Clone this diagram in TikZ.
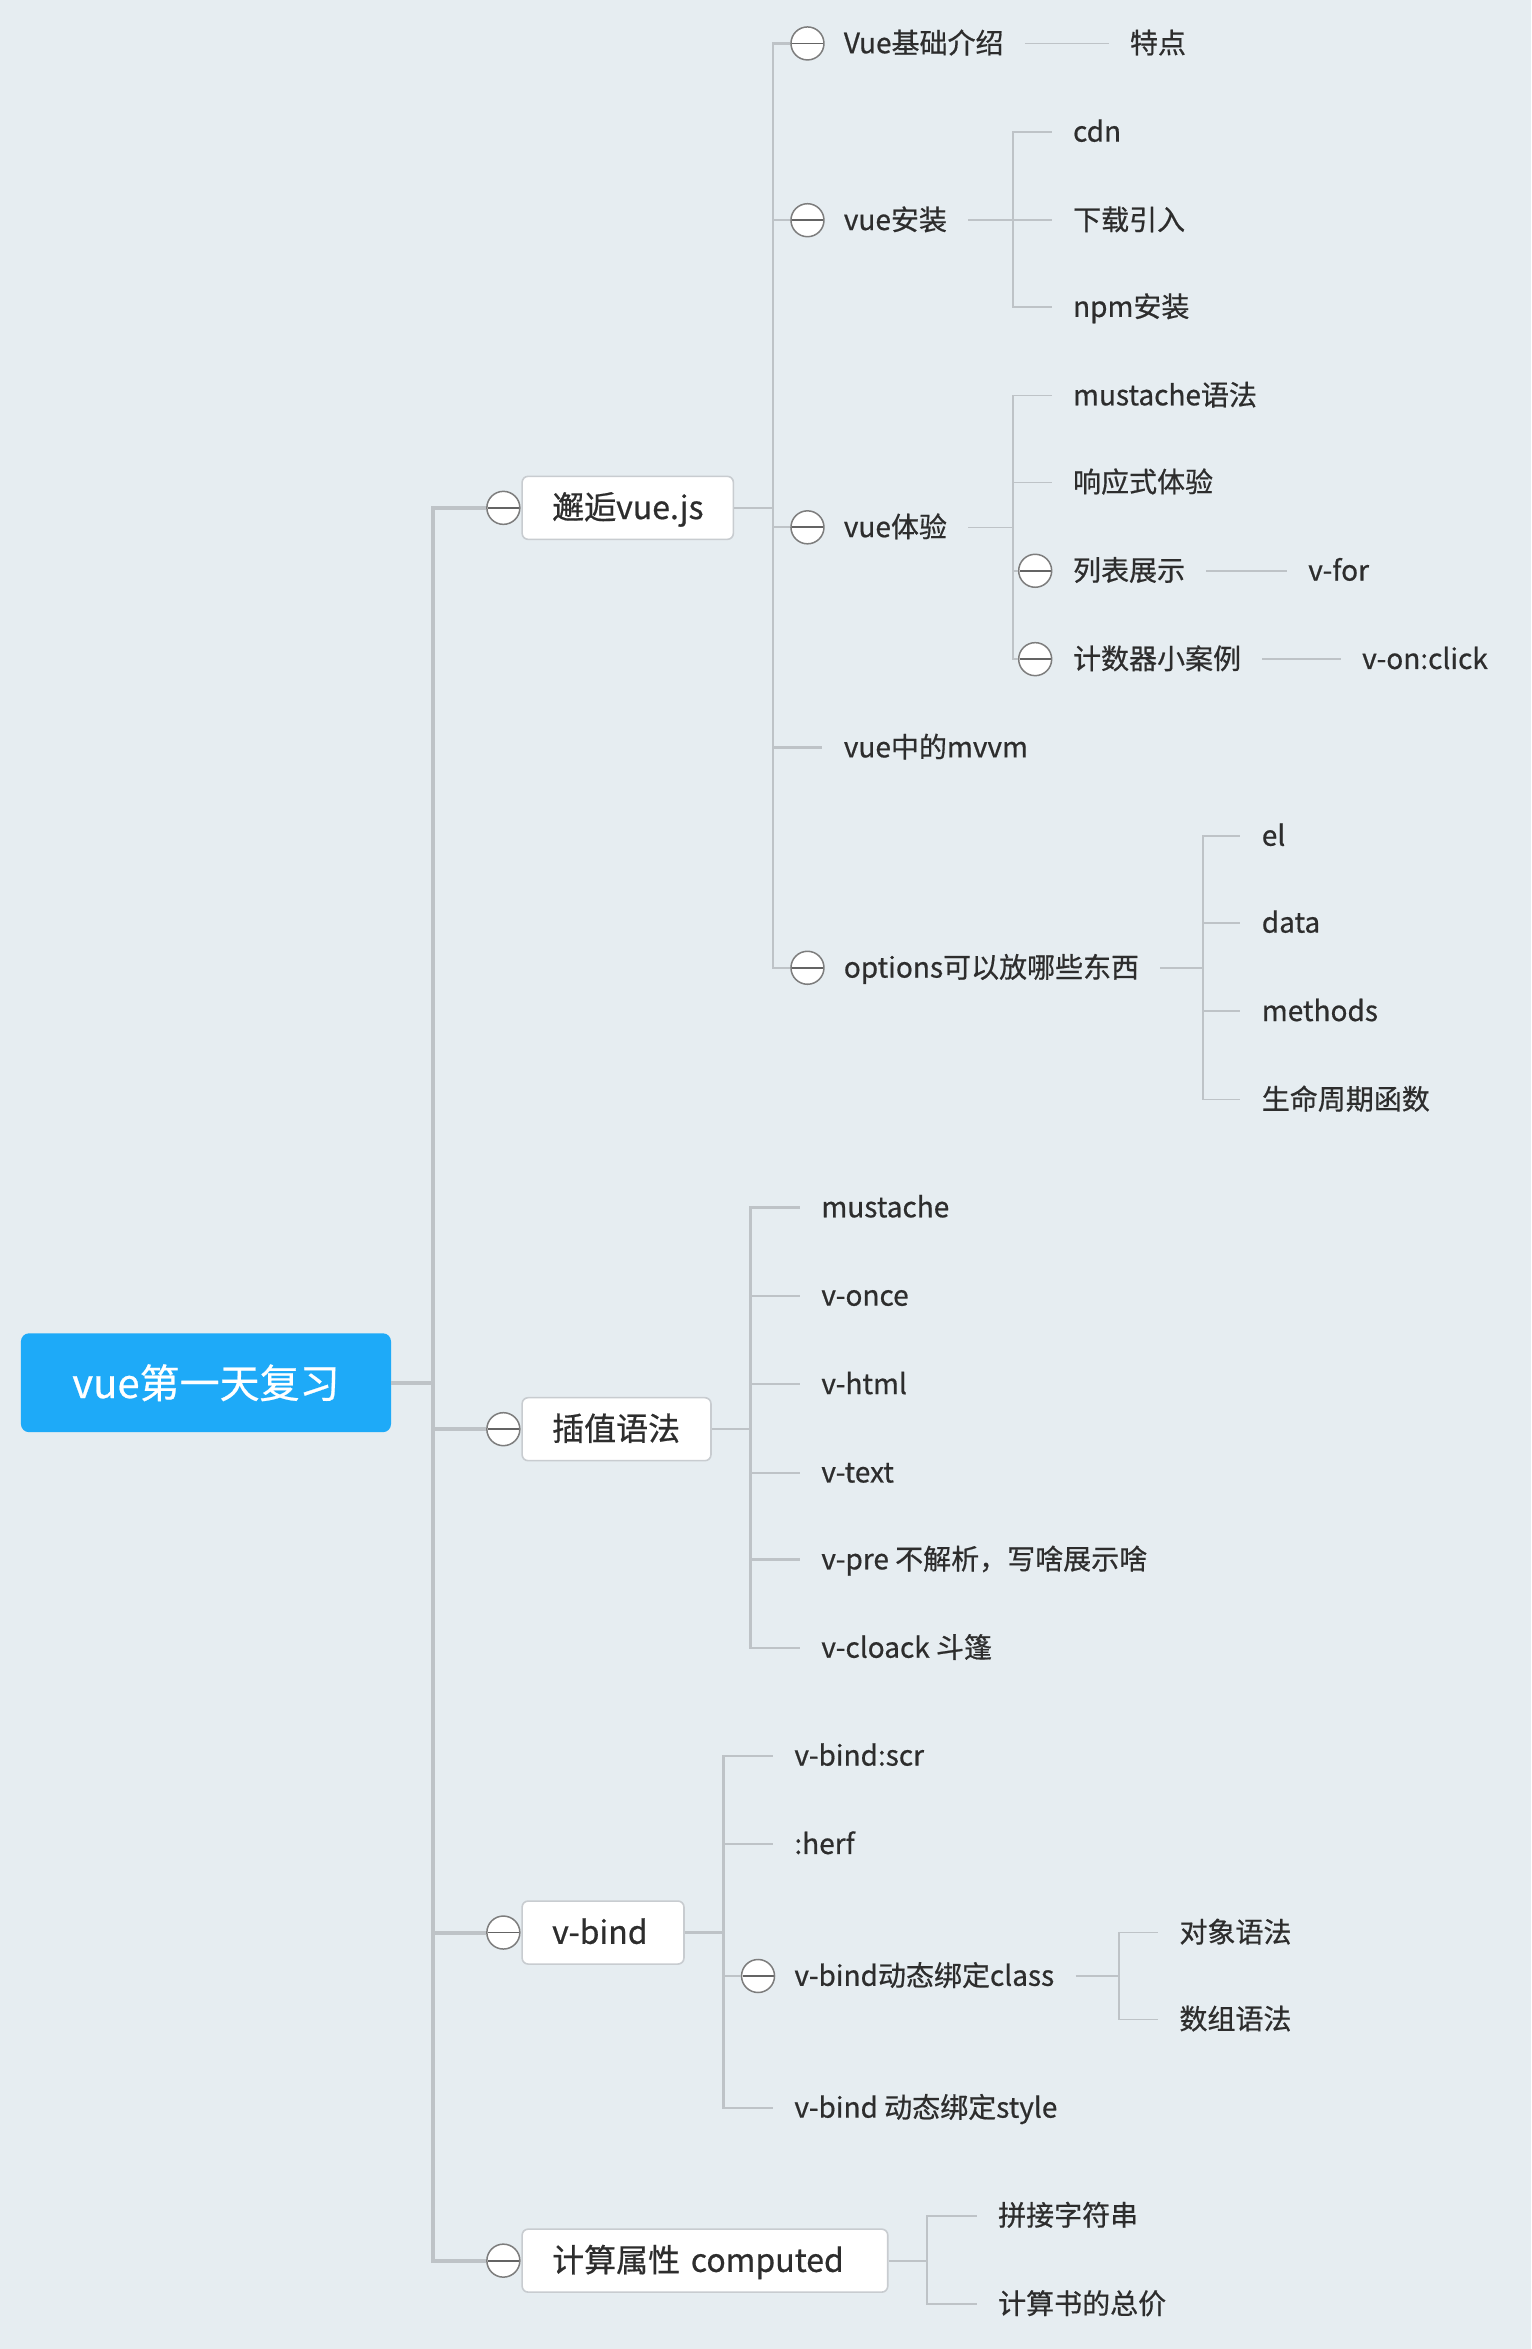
\documentclass[tikz,border=0pt]{standalone}
\usepackage{fontspec}
\setmainfont{Noto Sans CJK SC}[FakeBold=0.6]
\definecolor{bgc}{RGB}{230,237,241}
\definecolor{linec}{RGB}{190,195,199}
\definecolor{rootc}{RGB}{30,170,248}
\definecolor{boxline}{RGB}{200,204,208}
\definecolor{txtc}{RGB}{45,45,45}
\definecolor{circc}{RGB}{125,125,125}
\definecolor{circl}{RGB}{100,100,100}
\tikzset{
  rootbox/.style={fill=rootc, rounded corners=4pt, minimum width=185pt, minimum height=49.4pt,
    text=white, font=\fontsize{20}{24}\selectfont, inner sep=0pt},
  topic/.style={draw=boxline, fill=white, rounded corners=3pt, line width=0.8pt, anchor=west,
    minimum height=31.5pt, inner xsep=15pt, inner ysep=0pt, text width=#1, align=left,
    font=\fontsize{16}{19}\selectfont, text=txtc, text height=13.6pt, text depth=2.4pt},
  leaf/.style={anchor=west, inner xsep=10.5pt, inner ysep=2pt, font=\fontsize{14}{17}\selectfont,
    text=txtc, text height=11.9pt, text depth=2.1pt},
  collapse/.style={circle, draw=circc, line width=0.75pt, fill=white, minimum size=16.5pt, inner sep=0pt,
    path picture={\draw[circl, line width=0.9pt] ([xshift=0.5pt]path picture bounding box.west) -- ([xshift=-0.5pt]path picture bounding box.east);}},
  trunk/.style={draw=linec, line width=2pt},
  branch/.style={draw=linec, line width=1.1pt},
  twig/.style={draw=linec, line width=0.8pt}
}
\begin{document}
\begin{tikzpicture}[x=0.749pt, y=-0.749pt]
\fill[bgc] (0,0) rectangle (1022,1568);
\useasboundingbox (0,0) rectangle (1022,1568);

\coordinate (T) at (289,923);
\coordinate (J1) at (516,339);
\coordinate (J2) at (676,147);
\coordinate (J3) at (676,352);
\coordinate (J4) at (803,646);
\coordinate (J5) at (501,954);
\coordinate (J6) at (483,1290);
\coordinate (J7) at (747,1319);
\coordinate (J8) at (619,1509);

% ---------- root
\node[rootbox] (root) at (137.5,923) {vue第一天复习};

% ---------- level 2
\node[collapse] (c1) at (336,339) {};
\node[topic=75.6pt] (b1) at (348,339) {邂逅vue.js};
\node[collapse] (c2) at (336,954) {};
\node[topic=64.4pt] (b2) at (348,954) {插值语法};
\node[collapse] (c3) at (336,1290) {};
\node[topic=50.9pt] (b3) at (348,1290) {v-bind};
\node[collapse] (c4) at (336,1509) {};
\node[topic=152.8pt] (b4) at (348,1509) {计算属性 computed};

% ---------- children of 邂逅vue.js
\node[collapse] (ca1) at (539,29) {};
\node[leaf] (a1) at (549,29) {Vue基础介绍};
\node[leaf] (a1x) at (740,29) {特点};
\node[collapse] (ca2) at (539,147) {};
\node[leaf] (a2) at (549,147) {vue安装};
\node[leaf] (a2a) at (702,88) {cdn};
\node[leaf] (a2b) at (702,147) {下载引入};
\node[leaf] (a2c) at (702,205) {npm安装};
\node[collapse] (ca3) at (539,352) {};
\node[leaf] (a3) at (549,352) {vue体验};
\node[leaf] (a3a) at (702,264) {mustache语法};
\node[leaf] (a3b) at (702,322) {响应式体验};
\node[collapse] (ca3c) at (691,381) {};
\node[leaf] (a3c) at (702,381) {列表展示};
\node[leaf] (a3cx) at (859,381) {v-for};
\node[collapse] (ca3d) at (691,440) {};
\node[leaf] (a3d) at (702,440) {计数器小案例};
\node[leaf] (a3dx) at (895,440) {v-on:click};
\node[leaf] (a4) at (549,499) {vue中的mvvm};
\node[collapse] (ca5) at (539,646) {};
\node[leaf] (a5) at (549,646) {options可以放哪些东西};
\node[leaf] (a5a) at (828,558) {el};
\node[leaf] (a5b) at (828,616) {data};
\node[leaf] (a5c) at (828,675) {methods};
\node[leaf] (a5d) at (828,734) {生命周期函数};

% ---------- children of 插值语法
\node[leaf] (s1) at (534,806) {mustache};
\node[leaf] (s2) at (534,865) {v-once};
\node[leaf] (s3) at (534,924) {v-html};
\node[leaf] (s4) at (534,983) {v-text};
\node[leaf] (s5) at (534,1041) {v-pre 不解析，写啥展示啥};
\node[leaf] (s6) at (534,1100) {v-cloack 斗篷};

% ---------- children of v-bind
\node[leaf] (v1) at (516,1172) {v-bind:scr};
\node[leaf] (v2) at (516,1231) {:herf};
\node[collapse] (cv3) at (506,1319) {};
\node[leaf] (v3) at (516,1319) {v-bind动态绑定class};
\node[leaf] (v3a) at (773,1290) {对象语法};
\node[leaf] (v3b) at (773,1348) {数组语法};
\node[leaf] (v4) at (516,1407) {v-bind 动态绑定style};

% ---------- children of 计算属性
\node[leaf] (p1) at (652,1479) {拼接字符串};
\node[leaf] (p2) at (652,1538) {计算书的总价};

% ---------- connectors
\draw[trunk] (root.east) -- (T);
\draw[trunk] (T) |- (c1.west);
\draw[trunk] (T) |- (c2.west);
\draw[trunk] (T) |- (c3.west);
\draw[trunk] (T) |- (c4.west);

\draw[branch] (b1.east) -- (J1);
\draw[branch] (J1) |- (ca1.west);
\draw[branch] (J1) |- (ca2.west);
\draw[branch] (J1) |- (ca3.west);
\draw[branch] (J1) |- (a4.west);
\draw[branch] (J1) |- (ca5.west);

\draw[twig] (a1.east) -- (a1x.west);
\draw[twig] (a2.east) -- (J2);
\draw[twig] (J2) |- (a2a.west);
\draw[twig] (J2) |- (a2b.west);
\draw[twig] (J2) |- (a2c.west);
\draw[twig] (a3.east) -- (J3);
\draw[twig] (J3) |- (a3a.west);
\draw[twig] (J3) |- (a3b.west);
\draw[twig] (J3) |- (ca3c.west);
\draw[twig] (J3) |- (ca3d.west);
\draw[twig] (a3c.east) -- (a3cx.west);
\draw[twig] (a3d.east) -- (a3dx.west);
\draw[twig] (a5.east) -- (J4);
\draw[twig] (J4) |- (a5a.west);
\draw[twig] (J4) |- (a5b.west);
\draw[twig] (J4) |- (a5c.west);
\draw[twig] (J4) |- (a5d.west);

\draw[branch] (b2.east) -- (J5);
\foreach \n in {s1,s2,s3,s4,s5,s6} \draw[branch] (J5) |- (\n.west);

\draw[branch] (b3.east) -- (J6);
\draw[branch] (J6) |- (v1.west);
\draw[branch] (J6) |- (v2.west);
\draw[branch] (J6) |- (cv3.west);
\draw[branch] (J6) |- (v4.west);
\draw[twig] (v3.east) -- (J7);
\draw[twig] (J7) |- (v3a.west);
\draw[twig] (J7) |- (v3b.west);

\draw[branch] (b4.east) -- (J8);
\draw[branch] (J8) |- (p1.west);
\draw[branch] (J8) |- (p2.west);
\end{tikzpicture}
\end{document}
